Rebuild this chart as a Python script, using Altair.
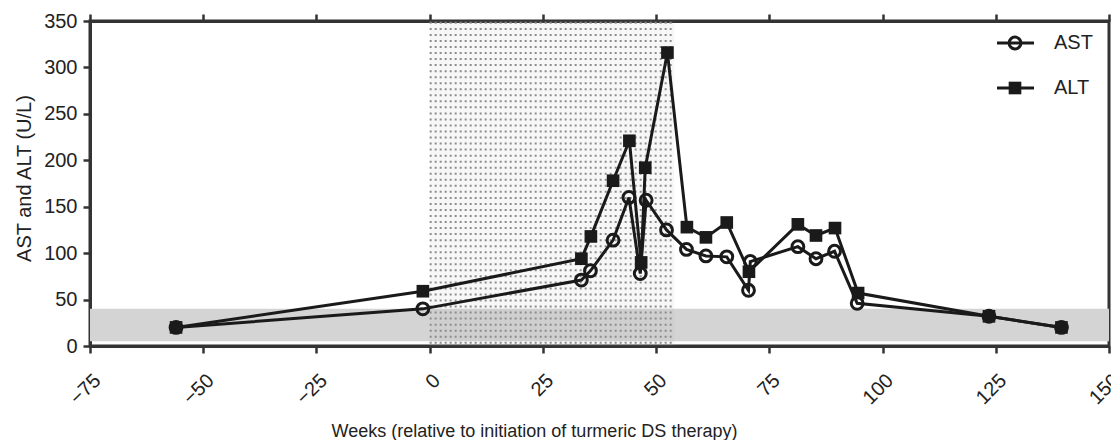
import altair as alt
import numpy as np
import pandas as pd

# --- data ---
ast_weeks = [-56, -1.5, 33.5, 35.5, 40.5, 44.0, 46.5, 47.8, 52.3, 56.7, 61.0, 65.6, 70.4, 70.8, 81.3, 85.3, 89.4, 94.4, 123.5, 139.5]
ast_vals = [20, 40, 71, 81, 114, 160, 78, 157, 125, 104, 97, 96, 60, 91, 107, 94, 102, 46, 32, 20]

alt_weeks = [-56, -1.5, 33.5, 35.6, 40.5, 44.1, 46.7, 47.6, 52.5, 56.8, 61.0, 65.6, 70.5, 81.3, 85.3, 89.5, 94.6, 123.5, 139.5]
alt_vals = [20, 59, 94, 118, 178, 221, 90, 192, 316, 128, 117, 133, 80, 131, 119, 127, 57, 32, 20]

x_ticks = [-75, -50, -25, 0, 25, 50, 75, 100, 125, 150]
y_ticks = [0, 50, 100, 150, 200, 250, 300, 350]

normal_low, normal_high = 5, 40          # grey reference band (U/L)
therapy_start, therapy_end = 0, 54       # dotted therapy period (weeks)

FONT = "Liberation Sans"
INK = "#1a1a1a"
AXC = "#333333"

W, H = 1019, 325

xscale = alt.Scale(domain=[-75, 150], nice=False, zero=False)
yscale = alt.Scale(domain=[0, 350], nice=False)

df = pd.concat([
    pd.DataFrame({"week": ast_weeks, "value": ast_vals, "series": "AST", "idx": range(len(ast_weeks))}),
    pd.DataFrame({"week": alt_weeks, "value": alt_vals, "series": "ALT", "idx": range(len(alt_weeks))}),
])

band_df = pd.DataFrame({"x0": [-75], "x1": [150], "y0": [normal_low], "y1": [normal_high]})
ther_df = pd.DataFrame({"x0": [therapy_start], "x1": [therapy_end], "y0": [0], "y1": [350]})
dots_df = pd.DataFrame({"y": np.arange(3.5, 350, 6.5), "x0": therapy_start, "x1": therapy_end})

bottom_axis = alt.Axis(
    values=x_ticks, labelAngle=-45, labelAlign="right", labelBaseline="top",
    labelPadding=17, labelFontSize=20, tickSize=7, tickWidth=2.5,
    domainWidth=3, domainColor=AXC, tickColor=AXC, labelColor="#222",
    grid=False, title="Weeks (relative to initiation of turmeric DS therapy)",
    titleFontSize=18, titleFontWeight="normal", titleColor="#222",
    titleX=444, titleY=90, titleBaseline="alphabetic")

top_axis = alt.Axis(orient="top", values=x_ticks, labels=False, title=None, tickSize=7, tickWidth=2.5,
                    domainWidth=3, domainColor=AXC, tickColor=AXC, grid=False)

left_axis = alt.Axis(values=y_ticks, labelFontSize=20, labelPadding=6, tickSize=7, tickWidth=2.5,
                     domainWidth=3, domainColor=AXC, tickColor=AXC, labelColor="#222", grid=False,
                     title="AST and ALT (U/L)", titleFontSize=20, titleFontWeight="normal",
                     titleColor="#222", titleX=-66, titleY=157, titleBaseline="middle", titleAngle=270)

band = alt.Chart(band_df).mark_rect(color="#d4d4d4").encode(
    x=alt.X("x0:Q", scale=xscale, axis=top_axis), x2="x1:Q",
    y=alt.Y("y0:Q", scale=yscale, axis=None), y2="y1:Q")

ther = alt.Chart(ther_df).mark_rect(color="#9a9a9a", opacity=0.08).encode(
    x=alt.X("x0:Q", scale=xscale, axis=None), x2="x1:Q",
    y=alt.Y("y0:Q", scale=yscale, axis=None), y2="y1:Q")

dots = alt.Chart(dots_df).mark_rule(color="#8c8c8c", strokeWidth=2, strokeDash=[2, 3]).encode(
    x=alt.X("x0:Q", scale=xscale, axis=None), x2="x1:Q",
    y=alt.Y("y:Q", scale=yscale, axis=None))

lines = alt.Chart(df).mark_line(color=INK, strokeWidth=3).encode(
    x=alt.X("week:Q", scale=xscale, axis=bottom_axis),
    y=alt.Y("value:Q", scale=yscale, axis=left_axis),
    detail="series:N", order="idx:Q")

ast_pts = alt.Chart(df[df.series == "AST"]).mark_point(
    shape="circle", filled=False, color=INK, strokeWidth=3, size=140, opacity=1).encode(
    x=alt.X("week:Q", scale=xscale, axis=None), y=alt.Y("value:Q", scale=yscale, axis=None))

alt_pts = alt.Chart(df[df.series == "ALT"]).mark_point(
    shape="square", filled=True, color=INK, size=160, opacity=1).encode(
    x=alt.X("week:Q", scale=xscale, axis=None), y=alt.Y("value:Q", scale=yscale, axis=None))

# legend (top-right, inside plot)
one = pd.DataFrame({"a": [0]})
legend_layers = []
for name, ypix, shape, filled in [("AST", 22, "circle", False), ("ALT", 67, "square", True)]:
    legend_layers.append(alt.Chart(one).mark_rule(color=INK, strokeWidth=3).encode(
        x=alt.value(907), x2=alt.value(944), y=alt.value(ypix)))
    legend_layers.append(alt.Chart(one).mark_point(
        shape=shape, filled=filled, color=INK, strokeWidth=3,
        size=140 if shape == "circle" else 160, opacity=1).encode(
        x=alt.value(925), y=alt.value(ypix)))
    legend_layers.append(alt.Chart(one).mark_text(
        align="left", baseline="middle", fontSize=20, font=FONT, color="#222").encode(
        x=alt.value(964), y=alt.value(ypix), text=alt.value(name)))

chart = alt.layer(band, ther, dots, lines, ast_pts, alt_pts, *legend_layers).resolve_axis(
    x="independent", y="independent").properties(
    width=W, height=H,
    autosize=alt.AutoSizeParams(type="none"),
    padding={"left": 82, "top": 13, "right": 2, "bottom": 94},
).configure(font=FONT).configure_view(stroke=AXC, strokeWidth=3).configure_axis(
    labelFont=FONT, titleFont=FONT)

chart.save("out.html", embed_options={"renderer": "svg", "actions": False})
